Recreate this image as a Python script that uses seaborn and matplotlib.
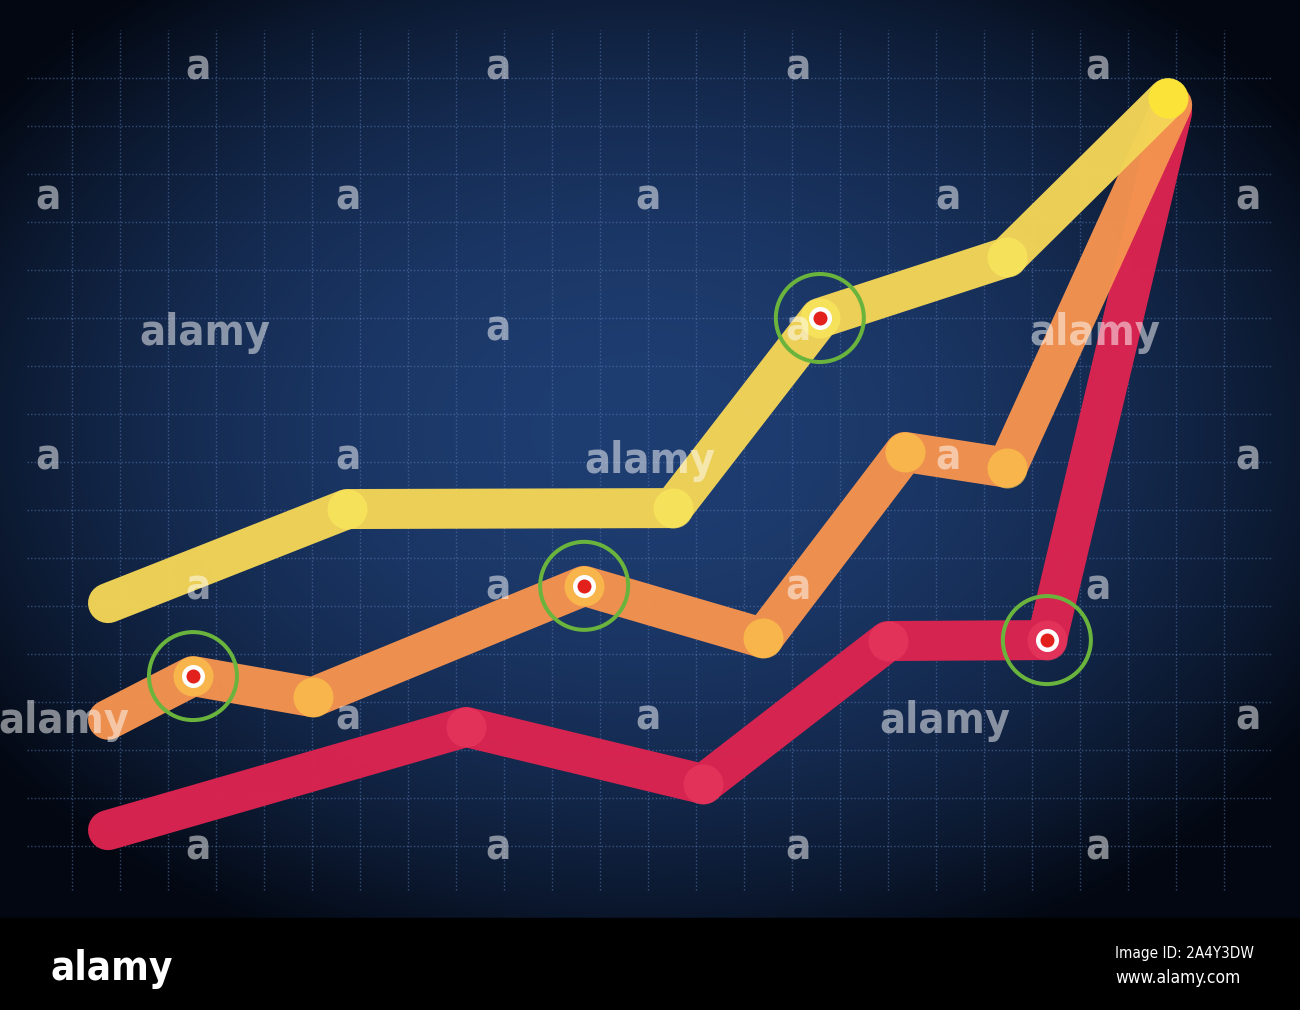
import numpy as np
import seaborn as sns
import matplotlib.pyplot as plt

W, H = 1300, 1010
DPI = 100

# series values, in grid cells (x to the right, y up from the bottom grid line)
yellow_x = [0.75, 5.73, 12.52, 15.58, 19.48, 22.83]
yellow_y = [5.06, 7.02, 7.04, 11.0, 12.27, 15.58]
orange_x = [0.75, 2.52, 5.02, 10.67, 14.40, 17.35, 19.48, 22.92]
orange_y = [2.63, 3.54, 3.10, 5.42, 4.33, 8.21, 7.88, 15.44]
red_x = [0.75, 8.21, 13.15, 17.0, 20.31, 22.92]
red_y = [0.33, 2.48, 1.29, 4.27, 4.29, 15.29]

# points with a green target ring: (series, index)
targets = [("yellow", 3), ("orange", 1), ("orange", 3), ("red", 4)]

# watermark text, pixel positions (x centre, baseline)
small_a = [(198, 80), (498, 80), (798, 80), (1098, 80),
           (48, 210), (348, 210), (648, 210), (948, 210), (1248, 210),
           (498, 340), (798, 340),
           (48, 470), (348, 470), (948, 470), (1248, 470),
           (198, 600), (498, 600), (798, 600), (1098, 600),
           (348, 730), (648, 730), (1248, 730),
           (198, 860), (498, 860), (798, 860), (1098, 860)]
big_alamy = [(205, 345), (1095, 345), (650, 473), (64, 733), (945, 733)]

series = {
    "red": (red_x, red_y, "#dc2450", "#e8395f"),
    "orange": (orange_x, orange_y, "#f5934f", "#fdc64b"),
    "yellow": (yellow_x, yellow_y, "#f3d557", "#fbe95e"),
}

NARROW = ["Liberation Sans Narrow", "DejaVu Sans"]
PX = 72 / DPI  # points per pixel

sns.set_theme(style="white")
fig = plt.figure(figsize=(W / DPI, H / DPI), dpi=DPI)
ax = fig.add_axes([0, 0, 1, 1])
ax.set_xlim(-1.5, 25.5833)
ax.set_ylim(-3.4167, 17.625)
ax.axis("off")

# dark navy backdrop with a vignette
hh, ww = 918, W
yy, xx = np.mgrid[0:hh, 0:ww]
u = (xx - 640) / 660
v = (yy - 430) / 470
r = np.sqrt(u ** 2 + v ** 2)
t = np.clip(r / 1.2, 0, 1) ** 2
c0 = np.array([30, 61, 113]) / 255
c1 = np.array([3, 8, 18]) / 255
bg = c0[None, None, :] * (1 - t[..., None]) + c1[None, None, :] * t[..., None]
ax.imshow(bg, extent=(-1.5, 25.5833, -1.5, 17.625), aspect="auto", zorder=0)
ax.axhspan(-3.4167, -1.5, color="black", zorder=0)

# dotted grid
ax.vlines(range(25), -0.92, 17.0, colors="#5577b0", linewidth=1.0,
          linestyles=(0, (1, 1.6)), alpha=0.6, zorder=1)
ax.hlines(range(17), -0.94, 25.0, colors="#5577b0", linewidth=1.0,
          linestyles=(0, (1, 1.6)), alpha=0.6, zorder=1)

lw = 40 * PX
for k, name in enumerate(["red", "orange", "yellow"]):
    xs, ys, col, light = series[name]
    sns.lineplot(x=xs, y=ys, ax=ax, color=col, linewidth=lw, alpha=0.97,
                 estimator=None, sort=False, solid_capstyle="round",
                 solid_joinstyle="round", zorder=2 + k)
    sns.scatterplot(x=xs[1:-1], y=ys[1:-1], ax=ax, color=light, s=lw ** 2,
                    alpha=0.7, linewidth=0, zorder=2 + k, legend=False)
    if name == "yellow":
        sns.scatterplot(x=xs[-1:], y=ys[-1:], ax=ax, color="#fde634", s=lw ** 2,
                        alpha=0.9, linewidth=0, zorder=2 + k, legend=False)

tx = [series[n][0][i] for n, i in targets]
ty = [series[n][1][i] for n, i in targets]
sns.scatterplot(x=tx, y=ty, ax=ax, s=(88 * PX) ** 2, facecolor="none",
                edgecolor="#6ab43e", linewidth=4 * PX, zorder=6, legend=False)
sns.scatterplot(x=tx, y=ty, ax=ax, s=(23 * PX) ** 2, color="white",
                linewidth=0, zorder=7, legend=False)
sns.scatterplot(x=tx, y=ty, ax=ax, s=(14 * PX) ** 2, color="#e3211c",
                linewidth=0, zorder=8, legend=False)

# watermarks
for px, py in small_a:
    fig.text(px / W, 1 - py / H, "a", color="white", alpha=0.5, fontsize=30,
             fontweight="bold", fontstretch="condensed", family=NARROW,
             ha="center", va="baseline", zorder=10)
for px, py in big_alamy:
    fig.text(px / W, 1 - py / H, "alamy", color="white", alpha=0.5,
             fontsize=31, fontweight="bold", fontstretch="condensed",
             family=NARROW, ha="center", va="baseline", zorder=10)

# footer strip
fig.text(50 / W, 1 - 980 / H, "alamy", color="white", fontsize=29,
         fontweight="bold", fontstretch="condensed", family=NARROW,
         ha="left", va="baseline")
fig.text(1115 / W, 1 - 958 / H, "Image ID: 2A4Y3DW", color="white",
         fontsize=11, fontstretch="condensed", family=NARROW,
         ha="left", va="baseline")
fig.text(1115 / W, 1 - 983 / H, "www.alamy.com", color="white",
         fontsize=12.5, fontstretch="condensed", family=NARROW,
         ha="left", va="baseline")

fig.savefig("out.png", dpi=DPI)
